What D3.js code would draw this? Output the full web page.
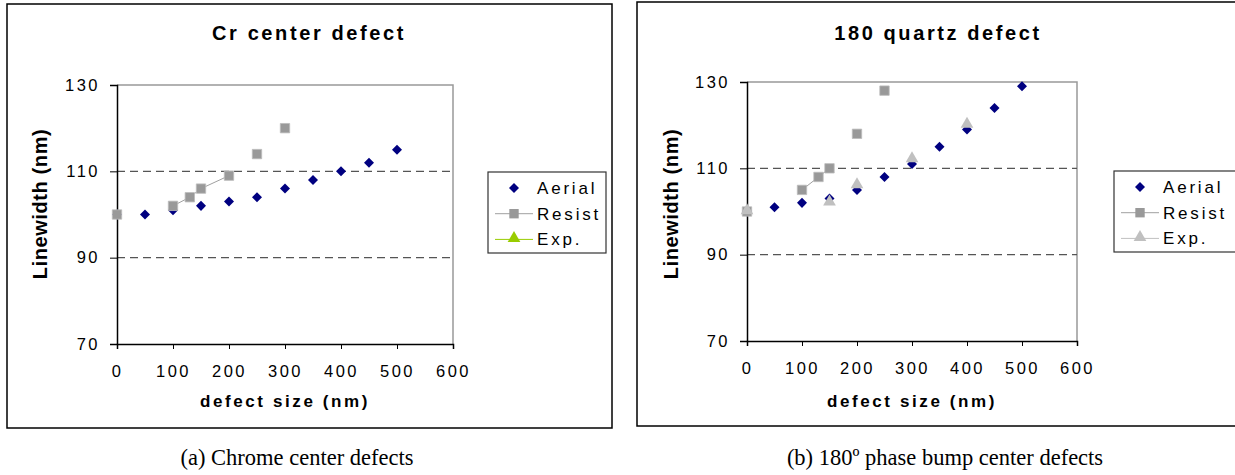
<!DOCTYPE html>
<html>
<head>
<meta charset="utf-8">
<script src="https://cdn.jsdelivr.net/npm/d3@7"></script>
<style>
  body { margin: 0; background: #fff; }
  text { font-family: Arial, "Liberation Sans", sans-serif; }
</style>
</head>
<body>
<svg id="chart" width="1235" height="475"></svg>
<script>
// x positions shared by the series (null y = gap, so Excel-style broken lines)
var xTicks = [0, 100, 200, 300, 400, 500, 600];
var yTicks = [70, 90, 110, 130];

// (a) Chrome center defects
var crAerialX = [0, 50, 100, 150, 200, 250, 300, 350, 400, 450, 500];
var crAerialY = [100, 100, 101, 102, 103, 104, 106, 108, 110, 112, 115];
var crResistX = [0, 50, 100, 130, 150, 200, 225, 250, 275, 300];
var crResistY = [100, null, 102, 104, 106, 109, null, 114, null, 120];
var crExpX = [];
var crExpY = [];

// (b) 180 phase bump center defects
var qzAerialX = [0, 50, 100, 150, 200, 250, 300, 350, 400, 450, 500];
var qzAerialY = [100, 101, 102, 103, 105, 108, 111, 115, 119, 124, 129];
var qzResistX = [0, 50, 100, 130, 150, 175, 200, 225, 250];
var qzResistY = [100, null, 105, 108, 110, null, 118, null, 128];
var qzExpX = [0, 75, 150, 175, 200, 250, 300, 350, 400];
var qzExpY = [100, null, 102, null, 106, null, 112, null, 120];

var seriesNames = ["Aerial", "Resist", "Exp."];

function zip(xs, ys) {
  return xs.map(function(x, i) { return { x: x, y: ys[i] }; });
}

var svg = d3.select("#chart");

function drawChart(cfg) {
  var g = svg.append("g");

  // outer frame
  g.append("rect")
    .attr("x", cfg.box[0]).attr("y", cfg.box[1])
    .attr("width", cfg.box[2]).attr("height", cfg.box[3])
    .attr("fill", "#fff").attr("stroke", "#000").attr("stroke-width", 1.5);

  g.append("text")
    .attr("x", cfg.titleX).attr("y", 40)
    .attr("text-anchor", "middle")
    .style("font-size", "20px").style("font-weight", "bold")
    .style("letter-spacing", "2.6px")
    .text(cfg.title);

  var x = d3.scaleLinear().domain([0, 600]).range([cfg.plot[0], cfg.plot[1]]);
  var y = d3.scaleLinear().domain([70, 130]).range([cfg.plot[3], cfg.plot[2]]);

  // top / right border of plot area
  g.append("path")
    .attr("d", "M" + x(0) + "," + y(130) + "H" + x(600) + "V" + y(70))
    .attr("fill", "none").attr("stroke", "#999").attr("stroke-width", 1.5);

  // dashed gridlines
  g.selectAll(".grid")
    .data([90, 110])
    .enter().append("line")
    .attr("x1", x(0)).attr("x2", x(600))
    .attr("y1", function(d) { return y(d); })
    .attr("y2", function(d) { return y(d); })
    .attr("stroke", "#555").attr("stroke-width", 1.2)
    .attr("stroke-dasharray", "8,5");

  var xAxis = g.append("g")
    .attr("transform", "translate(0," + y(70) + ")")
    .call(d3.axisBottom(x).tickValues(xTicks).tickSize(5).tickPadding(16));
  var yAxis = g.append("g")
    .attr("transform", "translate(" + x(0) + ",0)")
    .call(d3.axisLeft(y).tickValues(yTicks).tickSize(7).tickPadding(10));

  [xAxis, yAxis].forEach(function(a) {
    a.select(".domain").attr("stroke", "#000").attr("stroke-width", 1.5);
    a.selectAll(".tick line").attr("stroke", "#000");
    a.selectAll(".tick text")
      .style("font-size", "16.5px").style("letter-spacing", "2.5px")
      .style("font-family", "Arial, 'Liberation Sans', sans-serif")
      .attr("fill", "#000");
  });

  g.append("text")
    .attr("x", (x(0) + x(600)) / 2).attr("y", 407)
    .attr("text-anchor", "middle")
    .style("font-size", "17px").style("font-weight", "bold")
    .style("letter-spacing", "2.6px")
    .text("defect size (nm)");

  g.append("text")
    .attr("transform", "translate(" + cfg.yLabelX + ",204) rotate(-90)")
    .attr("text-anchor", "middle")
    .style("font-size", "20px").style("font-weight", "bold")
    .style("letter-spacing", "0.6px")
    .text("Linewidth (nm)");

  var line = d3.line()
    .defined(function(d) { return d.y !== null; })
    .x(function(d) { return x(d.x); })
    .y(function(d) { return y(d.y); });

  var resist = zip(cfg.resistX, cfg.resistY);
  var exp = zip(cfg.expX, cfg.expY);
  var aerial = zip(cfg.aerialX, cfg.aerialY);

  g.append("path").datum(resist).attr("d", line)
    .attr("fill", "none").attr("stroke", "#a0a0a0").attr("stroke-width", 1);
  g.append("path").datum(exp).attr("d", line)
    .attr("fill", "none").attr("stroke", cfg.expColor).attr("stroke-width", 1);

  var diamond = d3.symbol().type(d3.symbolDiamond2).size(64);
  var square = d3.symbol().type(d3.symbolSquare).size(88);
  var triangle = d3.symbol().type(d3.symbolTriangle).size(70);

  g.selectAll(".aerial")
    .data(aerial.filter(function(d) { return d.y !== null; }))
    .enter().append("path")
    .attr("d", diamond)
    .attr("transform", function(d) { return "translate(" + x(d.x) + "," + y(d.y) + ")"; })
    .attr("fill", "#000080");

  g.selectAll(".resist")
    .data(resist.filter(function(d) { return d.y !== null; }))
    .enter().append("path")
    .attr("d", square)
    .attr("transform", function(d) { return "translate(" + x(d.x) + "," + y(d.y) + ")"; })
    .attr("fill", "#999").attr("stroke", "#bbb").attr("stroke-width", 0.8);

  g.selectAll(".exp")
    .data(exp.filter(function(d) { return d.y !== null; }))
    .enter().append("path")
    .attr("d", triangle)
    .attr("transform", function(d) { return "translate(" + x(d.x) + "," + (y(d.y) - 1) + ")"; })
    .attr("fill", cfg.expColor);

  // legend
  var lg = g.append("g").attr("transform", "translate(" + cfg.legend[0] + "," + cfg.legend[1] + ")");
  lg.append("rect")
    .attr("width", cfg.legend[2]).attr("height", 81)
    .attr("fill", "#fff").attr("stroke", "#333").attr("stroke-width", 1.2);
  seriesNames.forEach(function(name, i) {
    var cy = 16 + i * 25.7;
    if (i > 0) {
      lg.append("line")
        .attr("x1", 7).attr("x2", 45).attr("y1", cy).attr("y2", cy)
        .attr("stroke", i === 1 ? "#a0a0a0" : cfg.expColor).attr("stroke-width", 1);
    }
    var sym = i === 0 ? diamond : (i === 1 ? square : triangle);
    lg.append("path")
      .attr("d", sym)
      .attr("transform", "translate(26," + (i === 2 ? cy - 1 : cy) + ")")
      .attr("fill", i === 0 ? "#000080" : (i === 1 ? "#999" : cfg.expColor));
    lg.append("text")
      .attr("x", 49).attr("y", cy + 6)
      .style("font-size", "17px").style("letter-spacing", "2.8px")
      .text(name);
  });

  svg.append("text")
    .attr("x", cfg.captionX).attr("y", 465)
    .attr("text-anchor", "middle")
    .style("font-family", "'Liberation Serif', 'Times New Roman', serif")
    .style("font-size", "22.5px")
    .text(cfg.caption);
}

drawChart({
  box: [7, 4, 605, 424],
  plot: [117, 453, 85, 344],
  title: "Cr center defect",
  titleX: 309,
  yLabelX: 46.5,
  aerialX: crAerialX, aerialY: crAerialY,
  resistX: crResistX, resistY: crResistY,
  expX: crExpX, expY: crExpY,
  expColor: "#99cc00",
  legend: [488, 172, 118],
  caption: "(a) Chrome center defects",
  captionX: 297
});

drawChart({
  box: [637, 2, 608, 424],
  plot: [747, 1077, 82, 341],
  title: "180 quartz defect",
  titleX: 938,
  yLabelX: 678,
  aerialX: qzAerialX, aerialY: qzAerialY,
  resistX: qzResistX, resistY: qzResistY,
  expX: qzExpX, expY: qzExpY,
  expColor: "#c0c0c0",
  legend: [1114, 171, 130],
  caption: "(b) 180\u00ba phase bump center defects",
  captionX: 945
});
</script>
</body>
</html>
